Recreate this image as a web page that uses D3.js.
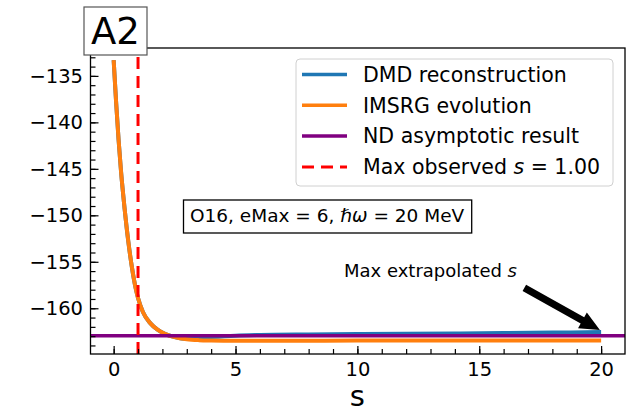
<!DOCTYPE html>
<html><head><meta charset="utf-8">
<script src="https://cdn.jsdelivr.net/npm/d3@7"></script>
<style>body{margin:0;background:#fff} svg{display:block} text{font-family:"DejaVu Sans",sans-serif;fill:#000}</style>
</head><body><svg id="c" width="636" height="413"></svg>
<script>
// ---- data ----
const imsrgS = [0, 0.1, 0.2, 0.3, 0.45, 0.6, 0.75, 0.9, 1.0, 1.2, 1.5, 1.8, 2.1, 2.5, 3.0, 3.5, 4, 5, 6, 8, 10, 12, 15, 18, 20];
const imsrgE = [-133.3, -137.8, -141.8, -145.2, -149.3, -152.8, -155.6, -157.8, -158.9, -160.4, -161.6, -162.3, -162.75, -163.1, -163.33, -163.43, -163.47, -163.5, -163.5, -163.5, -163.48, -163.48, -163.47, -163.46, -163.46];
const dmdS = [0, 0.1, 0.2, 0.3, 0.45, 0.6, 0.75, 0.9, 1.0, 1.2, 1.5, 1.8, 2.1, 2.5, 3, 4, 5, 6, 8, 10, 12, 14, 16, 18, 20];
const dmdE = [-133.3, -137.8, -141.8, -145.2, -149.3, -152.8, -155.6, -157.8, -158.9, -160.4, -161.6, -162.3, -162.75, -163.1, -163.3, -163.1, -162.95, -162.88, -162.82, -162.78, -162.74, -162.71, -162.67, -162.62, -162.55];
const ndAsymptote = -162.95;
const maxObservedS = 1.0;
const xTicks = [0, 5, 10, 15, 20];
const xMinor = d3.range(0, 21, 1);
const yTicks = [-160, -155, -150, -145, -140, -135];
const yMinor = d3.range(-164, -132, 1);
const seriesNames = ["DMD reconstruction", "IMSRG evolution", "ND asymptotic result", "Max observed "];
const seriesColors = ["#1f77b4", "#ff7f0e", "#800080", "#ff0000"];
const panelLabel = "A2";
const infoText = "O16, eMax = 6, ";
const annotText = "Max extrapolated ";
const arrowTip = [19.95, -162.35];
const arrowTail = [16.85, -157.8];

// ---- layout ----
const L = 90.5, R = 625, T = 48, B = 354;
const svg = d3.select("#c");
const x = d3.scaleLinear().domain([-0.95, 20.98]).range([L, R]);
const y = d3.scaleLinear().domain([-164.92, -132.0]).range([B, T]);

svg.append("defs").append("clipPath").attr("id", "clip")
  .append("rect").attr("x", L).attr("y", T).attr("width", R - L).attr("height", B - T);
const g = svg.append("g").attr("clip-path", "url(#clip)");

const line = d3.line().x(d => x(d[0])).y(d => y(d[1])).curve(d3.curveMonotoneX);

g.append("path").datum(d3.zip(dmdS, dmdE)).attr("d", line)
  .attr("fill", "none").attr("stroke", seriesColors[0]).attr("stroke-width", 4);
g.append("path").datum(d3.zip(imsrgS, imsrgE)).attr("d", line)
  .attr("fill", "none").attr("stroke", seriesColors[1]).attr("stroke-width", 4);
g.append("line").attr("x1", L).attr("x2", R).attr("y1", y(ndAsymptote)).attr("y2", y(ndAsymptote))
  .attr("stroke", seriesColors[2]).attr("stroke-width", 3.5);
g.append("line").attr("x1", x(maxObservedS)).attr("x2", x(maxObservedS)).attr("y1", B).attr("y2", T)
  .attr("stroke", seriesColors[3]).attr("stroke-width", 3).attr("stroke-dasharray", "12,7");

// ---- axes ----
const styleAxis = sel => { sel.select(".domain").remove(); sel.selectAll("line").attr("stroke", "#000").attr("stroke-width", 1.2); };
svg.append("g").attr("transform", `translate(${L},0)`)
  .call(d3.axisLeft(y).tickValues(yMinor).tickSize(-5).tickFormat("")).call(styleAxis);
svg.append("g").attr("transform", `translate(${L},0)`)
  .call(d3.axisLeft(y).tickValues(yTicks).tickSizeInner(-8).tickSizeOuter(0).tickPadding(7.5))
  .call(styleAxis).selectAll("text").style("font-size", "19.5px");
svg.append("g").attr("transform", `translate(0,${B})`)
  .call(d3.axisBottom(x).tickValues(xMinor).tickSize(-5).tickFormat("")).call(styleAxis);
svg.append("g").attr("transform", `translate(0,${B})`)
  .call(d3.axisBottom(x).tickValues(xTicks).tickSizeInner(-8).tickSizeOuter(0).tickPadding(8))
  .call(styleAxis).selectAll("text").style("font-size", "19.5px");

svg.append("rect").attr("x", L).attr("y", T).attr("width", R - L).attr("height", B - T)
  .attr("fill", "none").attr("stroke", "#000").attr("stroke-width", 1.3);

svg.append("text").attr("x", x(10)).attr("y", 406).attr("text-anchor", "middle")
  .style("font-size", "29px").text("s");

// ---- legend ----
const lg = svg.append("g");
lg.append("rect").attr("x", 296).attr("y", 59).attr("width", 317).attr("height", 127).attr("rx", 4)
  .attr("fill", "#fff").attr("fill-opacity", 0.8).attr("stroke", "#d0d0d0").attr("stroke-width", 1);
seriesNames.forEach((name, i) => {
  const cy = 74.5 + i * 30.8;
  lg.append("line").attr("x1", 302).attr("x2", 347).attr("y1", cy).attr("y2", cy)
    .attr("stroke", seriesColors[i]).attr("stroke-width", i === 3 ? 3 : 3.5)
    .attr("stroke-dasharray", i === 3 ? "12,7" : null);
  const t = lg.append("text").attr("x", 363).attr("y", cy + 7.3).style("font-size", "20.5px").text(name);
  if (i === 3) {
    t.append("tspan").style("font-style", "italic").text("s");
    t.append("tspan").text(" = " + maxObservedS.toFixed(2));
  }
});

// ---- info box ----
const ib = svg.append("g");
const ibRect = ib.append("rect").attr("x", 183.5).attr("y", 200).attr("height", 33)
  .attr("fill", "#fff").attr("stroke", "#000").attr("stroke-width", 1.3);
const it = ib.append("text").attr("x", 190).attr("y", 221.7).style("font-size", "18.5px").text(infoText);
it.append("tspan").style("font-style", "italic").text("ℏω");
it.append("tspan").text(" = 20 MeV");
ibRect.attr("width", it.node().getComputedTextLength() + 14);

// ---- annotation ----
const at = svg.append("text").attr("x", 517).attr("y", 277).attr("text-anchor", "end").style("font-size", "18px").text(annotText);
at.append("tspan").style("font-style", "italic").text("s");
{
  const tx = x(arrowTip[0]), ty = y(arrowTip[1]);
  const sx = x(arrowTail[0]), sy = y(arrowTail[1]);
  const dx = tx - sx, dy = ty - sy, len = Math.hypot(dx, dy);
  const ux = dx / len, uy = dy / len, px = -uy, py = ux;
  const hl = 20, hw = 9, sw = 3.6;
  const bx = tx - ux * hl, by = ty - uy * hl;
  const pts = [
    [sx + px * sw, sy + py * sw], [bx + px * sw, by + py * sw], [bx + px * hw, by + py * hw],
    [tx, ty], [bx - px * hw, by - py * hw], [bx - px * sw, by - py * sw], [sx - px * sw, sy - py * sw]
  ];
  svg.append("polygon").attr("points", pts.map(p => p.join(",")).join(" ")).attr("fill", "#000");
}

// ---- panel label ----
svg.append("rect").attr("x", 84).attr("y", 7).attr("width", 63).attr("height", 48)
  .attr("fill", "#fff").attr("stroke", "#555").attr("stroke-width", 1.2);
svg.append("text").attr("x", 115.5).attr("y", 44).attr("text-anchor", "middle")
  .style("font-size", "37px").text(panelLabel);
</script></body></html>
